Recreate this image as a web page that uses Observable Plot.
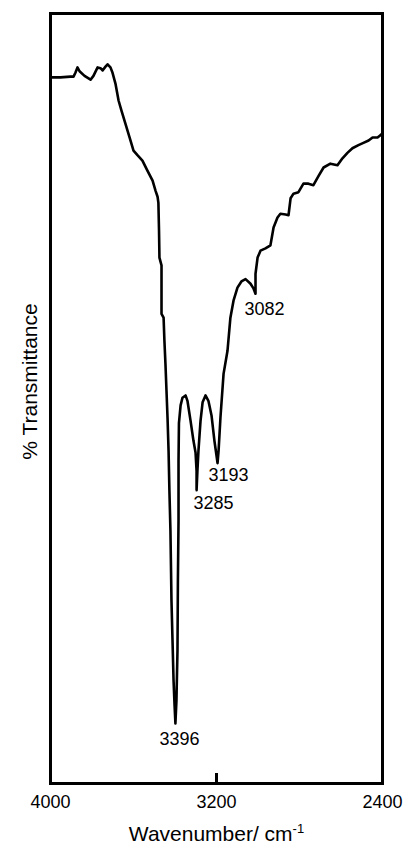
<!DOCTYPE html>
<html><head><meta charset="utf-8">
<script src="https://cdn.jsdelivr.net/npm/d3@7"></script>
<script src="https://cdn.jsdelivr.net/npm/@observablehq/plot@0.6"></script>
<style>body{margin:0;background:#fff}</style>
</head><body><div id="chart"></div>
<script>
// IR spectrum trace (wavenumber in cm-1, transmittance in arbitrary %)
const wavenumber = [4000,3952,3904,3889,3880,3870,3860,3836,3807,3793,3773,3759,3749,3735,3725,3711,3701,3687,3672,3658,3639,3619,3600,3581,3557,3533,3508,3494,3484,3480,3477,3475,3465,3465,3455,3451,3446,3441,3436,3431,3427,3422,3417,3412,3407,3402,3398,3393,3388,3386,3383,3383,3381,3373,3364,3349,3340,3325,3311,3301,3296,3296,3292,3287,3277,3267,3253,3239,3224,3210,3200,3195,3190,3181,3166,3147,3133,3118,3099,3080,3060,3036,3022,3012,3012,3002,2988,2964,2940,2925,2906,2892,2867,2853,2843,2829,2805,2781,2757,2733,2708,2684,2651,2617,2593,2569,2545,2516,2492,2467,2448,2424,2410,2400];
const transmittance = [91.7,91.7,91.8,91.8,92.3,93.0,92.5,91.9,91.4,91.9,93.0,92.9,92.6,93.1,93.4,93.0,92.3,90.9,88.7,87.4,85.7,83.9,82.2,81.6,80.9,79.6,78.3,77.0,76.2,75.4,71.8,68.3,67.3,61.0,60.5,57.5,54.5,51.0,47.5,43.2,38.1,32.9,23.8,18.6,13.4,10.1,7.8,10.8,17.3,26.4,34.2,41.9,46.8,49.1,50.1,50.4,49.7,47.1,44.5,43.0,40.6,38.1,40.6,43.2,47.1,49.5,50.4,49.7,47.8,44.5,42.6,41.6,43.2,47.5,53.2,56.2,60.5,62.7,64.4,65.2,65.5,64.9,64.3,63.6,66.2,68.3,69.2,69.5,69.9,72.2,73.5,74.0,73.9,73.8,76.0,76.6,76.8,77.9,77.9,77.7,78.9,80.0,80.5,80.3,81.2,81.9,82.5,82.9,83.2,83.5,83.9,83.9,84.2,84.4];

// Peak annotations
const peakLabels = ["3396", "3285", "3193", "3082"];
const peakLabelWavenumber = [3378, 3214, 3142, 2969];
const peakLabelTransmittance = [5.8, 36.4, 40.0, 61.6];

// Axis
const xDomain = [4000, 2400];
const xTicks = [4000, 3200, 2400];
const innerTicks = [3200];
const xLabel = "Wavenumber/ cm-1";
const yLabel = "% Transmittance";

const spectrum = wavenumber.map((w, i) => ({w, t: transmittance[i]}));
const peaks = peakLabels.map((label, i) => ({label, w: peakLabelWavenumber[i], t: peakLabelTransmittance[i]}));

const chart = Plot.plot({
  width: 405,
  height: 844,
  marginTop: 13,
  marginRight: 23,
  marginBottom: 61,
  marginLeft: 50,
  style: {fontFamily: "'Liberation Sans', Arial, sans-serif", background: "#fff", color: "#000"},
  x: {domain: xDomain, axis: null},
  y: {domain: [0, 100], axis: null},
  marks: [
    Plot.axisX({ticks: xTicks, tickSize: 0, tickPadding: 12, fontSize: 18, tickFormat: d => String(d), label: null}),
    Plot.tickX(innerTicks, {x: d => d, stroke: "#000", strokeWidth: 3, insetTop: 760}),
    Plot.line(spectrum, {x: "w", y: "t", stroke: "#000", strokeWidth: 2.6, strokeLinejoin: "round"}),
    Plot.text(peaks, {x: "w", y: "t", text: "label", fontSize: 18, fill: "#000"}),
    Plot.frame({stroke: "#000", strokeWidth: 3}),
    Plot.text([yLabel], {frameAnchor: "left", textAnchor: "middle", lineAnchor: "middle", rotate: -90, dx: -20, dy: -17, fontSize: 21, fill: "#000"}),
    Plot.text([xLabel], {frameAnchor: "bottom", textAnchor: "middle", lineAnchor: "middle", dy: 51, fontSize: 21, fill: "#000"})
  ]
});

// render "-1" of the unit as a superscript
chart.querySelectorAll("text").forEach(t => {
  if (t.textContent === xLabel) {
    t.textContent = "Wavenumber/ cm";
    const sup = document.createElementNS("http://www.w3.org/2000/svg", "tspan");
    sup.setAttribute("font-size", "13");
    sup.setAttribute("dy", "-8");
    sup.textContent = "-1";
    t.appendChild(sup);
  }
});
document.getElementById("chart").appendChild(chart);
</script>
</body></html>
